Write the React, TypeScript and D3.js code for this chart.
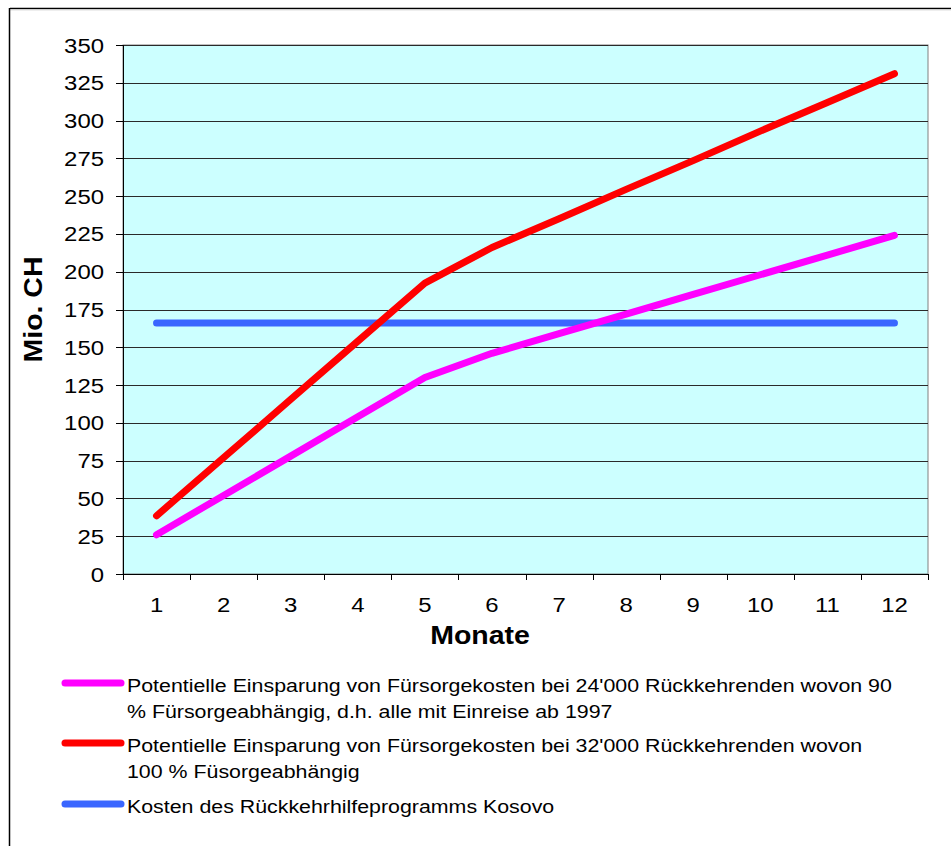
import React from "react";
import * as d3 from "d3";

const months = [1, 2, 3, 4, 5, 6, 7, 8, 9, 10, 11, 12];
const savings24k = [26, 52, 78, 104, 130, 146, 159, 172, 185, 198, 211, 224];
const savings32k = [38.5, 77, 115.5, 154, 192.5, 216, 235, 254.5, 273.5, 293, 312, 331];
const programCost = [166, 166, 166, 166, 166, 166, 166, 166, 166, 166, 166, 166];
const yTicks = [0, 25, 50, 75, 100, 125, 150, 175, 200, 225, 250, 275, 300, 325, 350];

const seriesNames = [
  ["Potentielle Einsparung von Fürsorgekosten bei 24'000 Rückkehrenden wovon 90", "% Fürsorgeabhängig, d.h. alle mit Einreise ab 1997"],
  ["Potentielle Einsparung von Fürsorgekosten bei 32'000 Rückkehrenden wovon", "100 % Füsorgeabhängig"],
  ["Kosten des Rückkehrhilfeprogramms Kosovo"],
];
const seriesColors = ["#FF00FF", "#FF0000", "#3A66FF"];
const seriesData = [savings24k, savings32k, programCost];

const FONT = "'Liberation Sans', Arial, sans-serif";
const SX = 1.14;
const SXL = 1.155;

export default function App() {
  const left = 123, right = 928, top = 45, bottom = 574;
  const x = d3.scaleBand<number>().domain(months).range([left, right]);
  const y = d3.scaleLinear().domain([0, 350]).range([bottom, top]);
  const cx = (m: number) => (x(m) as number) + x.bandwidth() / 2;
  const line = d3.line<number>().x((_, i) => cx(months[i])).y((v) => y(v));

  const bounds = months.map((m) => x(m) as number).concat([right]);

  const legendRows: { y: number; lines: string[]; color: string }[] = [];
  const legendY = [683, 743, 804];
  seriesNames.forEach((lines, i) => legendRows.push({ y: legendY[i], lines, color: seriesColors[i] }));

  return (
    <svg width={951} height={846} style={{ position: "absolute", left: 0, top: 0 }} fontFamily={FONT}>
      <rect x={0} y={0} width={951} height={846} fill="#fff" />
      <line x1={10} y1={8.5} x2={951} y2={8.5} stroke="#000" strokeWidth={1.5} />
      <line x1={10} y1={10} x2={951} y2={10} stroke="#ddd" strokeWidth={1} />
      <line x1={9.5} y1={8} x2={9.5} y2={846} stroke="#000" strokeWidth={1.5} />

      <rect x={left} y={top} width={right - left} height={bottom - top} fill="#CCFFFF" stroke="#808080" strokeWidth={1} />
      {yTicks.filter((t) => t > 0).map((t) => (
        <line key={"g" + t} x1={left} x2={right} y1={Math.round(y(t)) + 0.5} y2={Math.round(y(t)) + 0.5} stroke="#2a2a2a" strokeWidth={1} />
      ))}
      <line x1={left + 0.5} x2={left + 0.5} y1={top} y2={bottom} stroke="#000" />
      <line x1={left - 7} x2={right} y1={bottom + 0.5} y2={bottom + 0.5} stroke="#000" />
      {yTicks.map((t) => (
        <line key={"yt" + t} x1={left - 7} x2={left} y1={Math.round(y(t)) + 0.5} y2={Math.round(y(t)) + 0.5} stroke="#000" />
      ))}
      {bounds.map((b, i) => (
        <line key={"xt" + i} x1={Math.round(b) + 0.5} x2={Math.round(b) + 0.5} y1={bottom} y2={bottom + 6} stroke="#000" />
      ))}
      {yTicks.map((t) => (
        <text key={"yl" + t} transform={`translate(104,${y(t) + 7.5}) scale(${SX},1)`} textAnchor="end" fontSize={21} fill="#000">
          {t}
        </text>
      ))}
      {months.map((m) => (
        <text key={"xl" + m} transform={`translate(${cx(m)},612) scale(${SX},1)`} textAnchor="middle" fontSize={21} fill="#000">
          {m}
        </text>
      ))}
      <text transform={`translate(480,644) scale(${SX},1)`} textAnchor="middle" fontSize={25} fontWeight="bold">
        Monate
      </text>
      <text transform={`translate(42,${(top + bottom) / 2}) rotate(-90) scale(${SX},1)`} textAnchor="middle" fontSize={25} fontWeight="bold">
        Mio. CH
      </text>

      {[2, 0, 1].map((si) => (
        <path key={"s" + si} d={line(seriesData[si]) as string} fill="none" stroke={seriesColors[si]} strokeWidth={7} strokeLinecap="round" strokeLinejoin="round" />
      ))}

      {legendRows.map((r, i) => (
        <g key={"lg" + i}>
          <line x1={65} x2={121} y1={r.y} y2={r.y} stroke={r.color} strokeWidth={7} strokeLinecap="round" />
          {r.lines.map((t, j) => (
            <text key={j} transform={`translate(127,${r.y + 9 + j * 26}) scale(${SXL},1)`} fontSize={18.5} fill="#000">
              {t}
            </text>
          ))}
        </g>
      ))}
    </svg>
  );
}
